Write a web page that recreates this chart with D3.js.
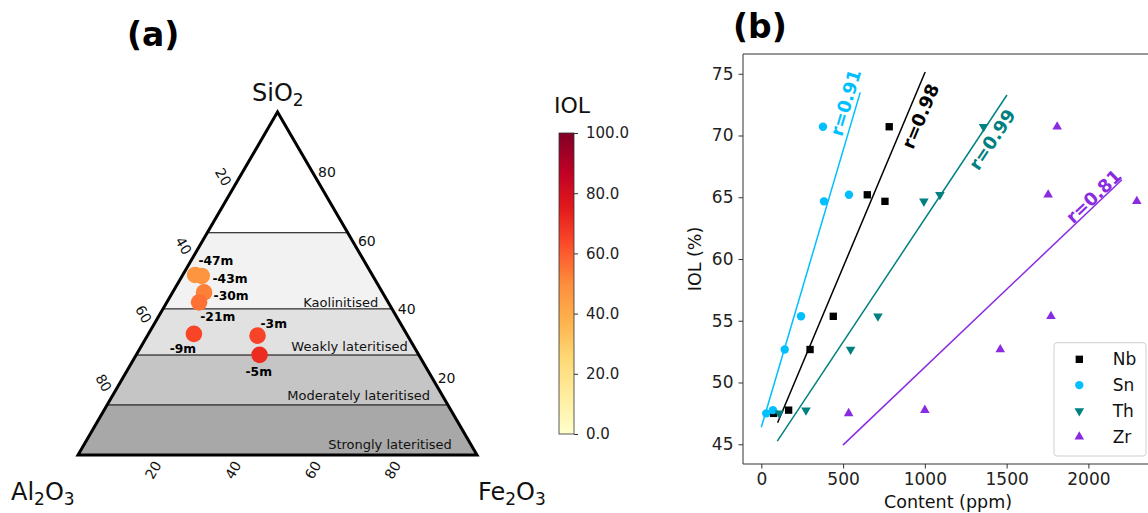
<!DOCTYPE html>
<html><head><meta charset="utf-8">
<script src="https://cdn.jsdelivr.net/npm/d3@7"></script>
<style>
body{margin:0;background:#fff;}
svg{display:block;font-family:"DejaVu Sans",sans-serif;}
</style></head><body>
<svg id="chart" width="1148" height="513"></svg>
<script>
// ===== Panel (a): ternary data =====
const samples = ["-47m","-43m","-30m","-21m","-9m","-3m","-5m"];
const sio2  = [52.5, 52.2, 47.4, 44.5, 35.3, 34.8, 29.2];
const fe2o3 = [3.1, 4.9, 7.9, 8.1, 11.4, 27.6, 30.9];
const al2o3 = [44.4, 42.9, 44.7, 47.4, 53.3, 37.6, 39.9];
const iol   = [47.5, 47.76, 52.65, 55.38, 64.68, 65.2, 70.72];
const zoneBounds = [0, 14.6, 29.15, 42.6, 64.8, 100];
const zoneNames = ["Strongly lateritised","Moderately lateritised","Weakly lateritised","Kaolinitised",""];
const ternaryTicks = [20, 40, 60, 80];
const colorbarTicks = [0, 20, 40, 60, 80, 100];

// ===== Panel (b): IOL vs content =====
const iolLevels = [47.5, 47.76, 52.67, 55.36, 64.67, 65.2, 70.71];
const elements = ["Nb","Sn","Th","Zr"];
const nbContent = [75, 167, 298, 440, 756, 648, 782];
const snContent = [30, 71, 143, 243, 383, 536, 377];
const thContent = [110, 273, 546, 713, 994, 1092, 1359];
const zrContent = [534, 1000, 1461, 1771, 2296, 1754, 1809];
const fitStart = [[99.6, 46.74], [0, 46.38], [97.8, 45.25], [499, 44.93]];
const fitEnd   = [[1002, 75.14], [605, 73.49], [1502, 73.28], [2205, 66.42]];
const rValues  = [0.98, 0.91, 0.99, 0.81];
const xTicks = [0, 500, 1000, 1500, 2000];
const yTicks = [45, 50, 55, 60, 65, 70, 75];

// ===== styles / layout =====
const FONT = '"DejaVu Sans", sans-serif';
const svg = d3.select("#chart");
svg.append("rect").attr("width",1148).attr("height",513).attr("fill","#fff");

const ylOrRd = ["#ffffcc","#ffeda0","#fed976","#feb24c","#fd8d3c","#fc4e2a","#e31a1c","#bd0026","#800026"];
const cmap = d3.scaleLinear().domain(d3.range(9).map(i => i*100/8)).range(ylOrRd).interpolate(d3.interpolateRgb);

// ---------- Ternary ----------
const tx = d3.scaleLinear().domain([0,100]).range([78,477]);
const ty = d3.scaleLinear().domain([0,100]).range([455,112]);
function proj(si, al, fe){
  const s = si+al+fe; const S = si/s*100, F = fe/s*100;
  return [tx(F + S/2), ty(S)];
}
const zoneFill = ["#a8a8a8","#c5c5c5","#e1e1e1","#f2f2f2","#ffffff"];
const ga = svg.append("g");
for (let i=0;i<zoneBounds.length-1;i++){
  const lo = zoneBounds[i], hi = zoneBounds[i+1];
  const pts = [proj(lo,100-lo,0), proj(lo,0,100-lo), proj(hi,0,100-hi), proj(hi,100-hi,0)];
  ga.append("polygon").attr("points", pts.map(p=>p.join(",")).join(" ")).attr("fill", zoneFill[i]);
}
zoneBounds.slice(1,-1).forEach(b=>{
  const a = proj(b,100-b,0), c = proj(b,0,100-b);
  ga.append("line").attr("x1",a[0]).attr("y1",a[1]).attr("x2",c[0]).attr("y2",c[1])
    .attr("stroke","#000").attr("stroke-width",1);
});
// zone labels
const zoneLabelLayout = [{lift:6.5,inset:21.4},{lift:5,inset:15},{lift:4.5,inset:8.5},{lift:2.2,inset:12.4}];
zoneNames.forEach((n,i)=>{
  if(!n) return;
  const y = ty(zoneBounds[i]) - zoneLabelLayout[i].lift;
  const s = ty.invert(y);
  const xr = tx(100 - s/2);
  ga.append("text").attr("x", xr - zoneLabelLayout[i].inset).attr("y", y)
    .attr("text-anchor","end").attr("font-size",13).attr("fill","#111").text(n);
});
// outline
const corners = [proj(100,0,0), proj(0,100,0), proj(0,0,100)];
ga.append("polygon").attr("points", corners.map(p=>p.join(",")).join(" "))
  .attr("fill","none").attr("stroke","#000").attr("stroke-width",3).attr("stroke-linejoin","miter");
// tick labels
ternaryTicks.forEach(v=>{
  const pl = proj(100-v, v, 0);
  ga.append("text").attr("transform",`translate(${pl[0]-14.3},${pl[1]-3.5}) rotate(60)`)
    .attr("text-anchor","middle").attr("dy","0.35em").attr("font-size",14).attr("fill","#111").text(v);
  const pr = proj(v, 0, 100-v);
  ga.append("text").attr("transform",`translate(${pr[0]+9.5},${pr[1]-8.3})`)
    .attr("text-anchor","middle").attr("dy","0.35em").attr("font-size",14).attr("fill","#111").text(v);
  const pb = proj(0, 100-v, v);
  ga.append("text").attr("transform",`translate(${pb[0]-4.5},${pb[1]+15}) rotate(-60)`)
    .attr("text-anchor","middle").attr("dy","0.35em").attr("font-size",14).attr("fill","#111").text(v);
});
// corner titles
function chem(g, x, y, parts, anchor){
  const t = g.append("text").attr("x",x).attr("y",y).attr("font-size",24).attr("fill","#111").attr("text-anchor",anchor||"start");
  parts.forEach(p=>{
    if (p.sub) t.append("tspan").attr("font-size",17).attr("dy",5).text(p.t);
    else t.append("tspan").attr("dy", p.up?-5:0).text(p.t);
  });
}
chem(ga, 252, 101, [{t:"SiO"},{t:"2",sub:true}]);
chem(ga, 11, 500, [{t:"Al"},{t:"2",sub:true},{t:"O",up:true},{t:"3",sub:true}]);
chem(ga, 478, 500, [{t:"Fe"},{t:"2",sub:true},{t:"O",up:true},{t:"3",sub:true}]);
// points
const pts = samples.map((s,i)=>({name:s, p:proj(sio2[i], al2o3[i], fe2o3[i]), v:iol[i]}));
ga.selectAll("circle.pt").data(pts).join("circle").attr("class","pt")
  .attr("cx",d=>d.p[0]).attr("cy",d=>d.p[1]).attr("r",8.3).attr("fill",d=>cmap(d.v));
const labelOffsets = [[20.8,-14],[28.3,3],[27,3.2],[18.7,14.7],[-11,14.5],[16.2,-11.7],[-0.8,16.7]];
ga.selectAll("text.pl").data(pts).join("text").attr("class","pl")
  .attr("x",(d,i)=>d.p[0]+labelOffsets[i][0]).attr("y",(d,i)=>d.p[1]+labelOffsets[i][1])
  .attr("text-anchor","middle").attr("dy","0.35em").attr("font-size",12.3).attr("font-weight","bold")
  .attr("fill","#000").text(d=>d.name);
svg.append("text").attr("x",127).attr("y",46).attr("font-size",33).attr("font-weight","bold").text("(a)");

// ---------- Colorbar ----------
const cb = d3.scaleLinear().domain([0,100]).range([434,133]);
const defs = svg.append("defs");
const grad = defs.append("linearGradient").attr("id","cbg").attr("x1",0).attr("y1",1).attr("x2",0).attr("y2",0);
d3.range(0,101,2).forEach(v=> grad.append("stop").attr("offset",v+"%").attr("stop-color",cmap(v)));
svg.append("rect").attr("x",559).attr("y",133).attr("width",15).attr("height",301)
  .attr("fill","url(#cbg)").attr("stroke","#333").attr("stroke-width",0.8);
const cbAxis = svg.append("g").attr("transform","translate(574,0)")
  .call(d3.axisRight(cb).tickValues(colorbarTicks).tickFormat(d3.format(".1f")).tickSize(4).tickPadding(8));
cbAxis.select(".domain").remove();
cbAxis.selectAll("text").attr("font-size",15).attr("font-family",FONT).attr("fill","#222");
cbAxis.selectAll("line").attr("stroke","#333");
svg.append("text").attr("x",572).attr("y",113).attr("text-anchor","middle").attr("font-size",22).attr("fill","#111").text("IOL");

// ---------- Panel (b) ----------
const xS = d3.scaleLinear().domain([-112, 2395]).range([743, 1153]);
const yS = d3.scaleLinear().domain([43.4, 76.6]).range([464, 54]);
const gb = svg.append("g");
const colors = {Nb:"#000000", Sn:"#00bfff", Th:"#008080", Zr:"#8a2be2"};
const symbols = {Nb:d3.symbol().type(d3.symbolSquare).size(54), Sn:d3.symbol().type(d3.symbolCircle).size(55),
  Th:d3.symbol().type(d3.symbolTriangle).size(40), Zr:d3.symbol().type(d3.symbolTriangle).size(40)};
const rot = {Nb:0, Sn:0, Th:180, Zr:0};
const contents = {Nb:nbContent, Sn:snContent, Th:thContent, Zr:zrContent};

// axes
const xa = gb.append("g").attr("transform","translate(0,464)")
  .call(d3.axisBottom(xS).tickValues(xTicks).tickFormat(d3.format("d")).tickSize(4.5).tickPadding(4.5));
const ya = gb.append("g").attr("transform","translate(743,0)")
  .call(d3.axisLeft(yS).tickValues(yTicks).tickFormat(d3.format("d")).tickSize(4.5).tickPadding(5));
[xa,ya].forEach(a=>{ a.select(".domain").remove();
  a.selectAll("text").attr("font-size",17).attr("font-family",FONT).attr("fill","#222");
  a.selectAll("line").attr("stroke","#333"); });
gb.append("path").attr("d","M743,54H1153V464H743Z").attr("fill","none").attr("stroke","#333").attr("stroke-width",1);

// fit lines + r labels
const rLayout = [{t:0.888,off:-12.6},{t:0.96,off:11.4},{t:0.891,off:-12.2},{t:0.917,off:7.5}];
elements.forEach((e,i)=>{
  const x0=xS(fitStart[i][0]), y0=yS(fitStart[i][1]), x1=xS(fitEnd[i][0]), y1=yS(fitEnd[i][1]);
  gb.append("line").attr("x1",x0).attr("y1",y0).attr("x2",x1).attr("y2",y1)
    .attr("stroke",colors[e]).attr("stroke-width",1.5);
  const L=Math.hypot(x1-x0,y1-y0), ux=(x1-x0)/L, uy=(y1-y0)/L, nx=uy, ny=-ux;
  const cx=x0+ux*L*rLayout[i].t+nx*rLayout[i].off, cy=y0+uy*L*rLayout[i].t+ny*rLayout[i].off;
  const ang=Math.atan2(uy,ux)*180/Math.PI;
  gb.append("text").attr("transform",`translate(${cx},${cy}) rotate(${ang})`)
    .attr("text-anchor","middle").attr("dominant-baseline","central")
    .attr("font-size",18).attr("font-weight","bold").attr("fill",colors[e]).text(`r=${rValues[i].toFixed(2)}`);
});
// points
elements.forEach(e=>{
  gb.selectAll(null).data(contents[e].map((c,i)=>({x:c,y:iolLevels[i]}))).join("path")
    .attr("d",symbols[e]()).attr("fill",colors[e])
    .attr("transform",d=>`translate(${xS(d.x)},${yS(d.y)}) rotate(${rot[e]})`);
});
// legend
const lg = gb.append("g");
lg.append("rect").attr("x",1054).attr("y",342.7).attr("width",92).attr("height",113.3).attr("rx",3)
  .attr("fill","#fff").attr("fill-opacity",0.85).attr("stroke","#d0d0d0").attr("stroke-width",1);
elements.forEach((e,i)=>{
  const y = 359.3 + i*25.8;
  lg.append("path").attr("d",symbols[e]()).attr("fill",colors[e])
    .attr("transform",`translate(1079.3,${y}) rotate(${rot[e]})`);
  lg.append("text").attr("x",1112.7).attr("y",y).attr("dominant-baseline","central")
    .attr("font-size",17).attr("fill","#111").text(e);
});
gb.append("text").attr("x",948).attr("y",508).attr("text-anchor","middle").attr("font-size",17.5).attr("fill","#111").text("Content (ppm)");
gb.append("text").attr("transform","translate(701,259) rotate(-90)").attr("text-anchor","middle").attr("font-size",17.5).attr("fill","#111").text("IOL (%)");
svg.append("text").attr("x",733).attr("y",38).attr("font-size",33).attr("font-weight","bold").text("(b)");
</script>
</body></html>
